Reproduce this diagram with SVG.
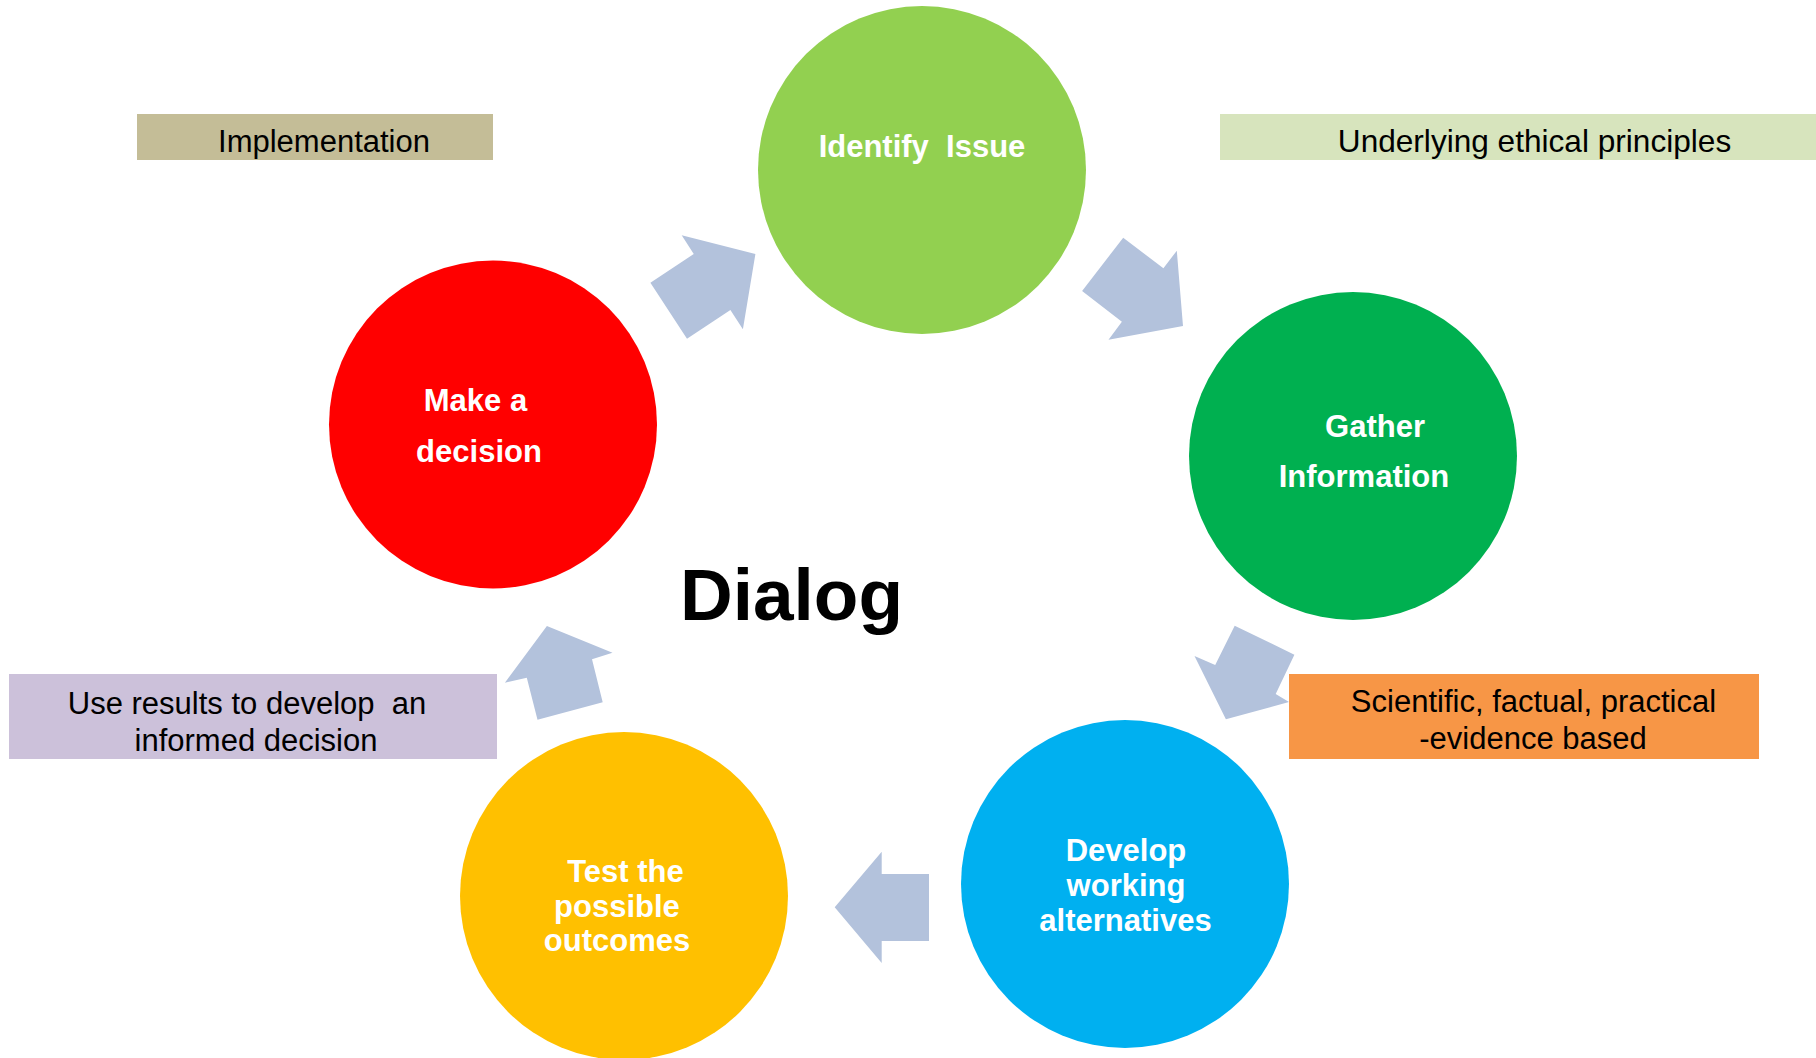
<svg xmlns="http://www.w3.org/2000/svg" width="1816" height="1058" viewBox="0 0 1816 1058">
  <style>
    .node-label { font-family: "Liberation Sans", Arial, sans-serif; font-weight: bold; font-size: 31px; fill: #FFFFFF; text-anchor: middle; }
    .note-label { font-family: "Liberation Sans", Arial, sans-serif; font-size: 31px; fill: #000000; text-anchor: middle; }
    .title { font-family: "Liberation Sans", Arial, sans-serif; font-weight: bold; font-size: 73px; fill: #000000; text-anchor: middle; }
    .arrow { fill: #B3C2DC; stroke: none; }
  </style>
  <rect width="1816" height="1058" fill="#FFFFFF"/>

  <g id="connectors">
    <polygon class="arrow" points="681.7,235.3 755.4,254 742.9,329.3 730.4,310 687,338.7 650.4,282.7 693.75,254"/>
    <polygon class="arrow" points="1123.2,237.7 1163.4,268.3 1176.8,250.7 1183,326 1108.5,339.7 1121.9,321.7 1082.1,291"/>
    <polygon class="arrow" points="1234.7,625.7 1294.4,654.7 1275.7,694 1289,702 1225.9,719.3 1194.5,656 1215.2,665"/>
    <polygon class="arrow" points="881.7,851.7 881.7,874 929,874 929,941 881.7,941 881.7,963 834.7,907.3"/>
    <polygon class="arrow" points="546.9,626 612.5,652.7 592,659.3 602.7,702.3 537.5,719.7 526.8,677.7 504.9,682.7"/>
  </g>

  <g id="node-identify">
    <circle cx="922" cy="170" r="164" fill="#92D050"/>
    <text class="node-label" x="922" y="156.5" xml:space="preserve">Identify  Issue</text>
  </g>

  <g id="node-gather">
    <circle cx="1353" cy="456" r="164" fill="#00B050"/>
    <text class="node-label" x="1375" y="437">Gather</text>
    <text class="node-label" x="1364" y="486.5">Information</text>
  </g>

  <g id="node-develop">
    <circle cx="1125" cy="884" r="164" fill="#00B0F0"/>
    <text class="node-label" x="1126" y="861">Develop</text>
    <text class="node-label" x="1126" y="896">working</text>
    <text class="node-label" x="1125.5" y="931">alternatives</text>
  </g>

  <g id="node-test">
    <circle cx="624" cy="896" r="164" fill="#FFC000"/>
    <text class="node-label" x="625.5" y="882">Test the</text>
    <text class="node-label" x="617" y="917">possible</text>
    <text class="node-label" x="617" y="951">outcomes</text>
  </g>

  <g id="node-decision">
    <circle cx="493" cy="424.5" r="164" fill="#FF0000"/>
    <text class="node-label" x="475.5" y="410.5">Make a</text>
    <text class="node-label" x="479" y="461.5">decision</text>
  </g>

  <g id="note-implementation">
    <rect x="137" y="114" width="356" height="46" fill="#C4BD97"/>
    <text class="note-label" x="324" y="151.5">Implementation</text>
  </g>

  <g id="note-ethical">
    <rect x="1220" y="114" width="596" height="46" fill="#D7E4BD"/>
    <text class="note-label" x="1534.5" y="152" style="font-size:31.6px">Underlying ethical principles</text>
  </g>

  <g id="note-scientific">
    <rect x="1289" y="674" width="470" height="85" fill="#F79646"/>
    <text class="note-label" x="1533.5" y="711.5">Scientific, factual, practical</text>
    <text class="note-label" x="1533" y="748.5">-evidence based</text>
  </g>

  <g id="note-results">
    <rect x="9" y="674" width="488" height="85" fill="#CCC1DA"/>
    <text class="note-label" x="247" y="713.5" xml:space="preserve">Use results to develop  an</text>
    <text class="note-label" x="256" y="750.5">informed decision</text>
  </g>

  <g id="title-dialog">
    <text class="title" x="791.5" y="620">Dialog</text>
  </g>
</svg>
